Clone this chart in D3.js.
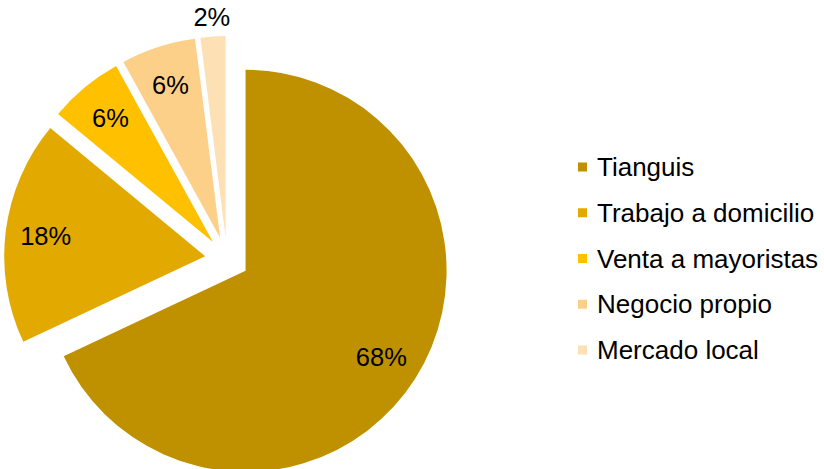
<!DOCTYPE html>
<html>
<head>
<meta charset="utf-8">
<script src="https://cdn.jsdelivr.net/npm/d3@7"></script>
<style>
  body { margin: 0; background: #fff; }
  svg text { font-family: "Liberation Sans", Arial, sans-serif; }
</style>
</head>
<body>
<div id="chart"></div>
<script>
// chart data
const categories = ["Tianguis", "Trabajo a domicilio", "Venta a mayoristas", "Negocio propio", "Mercado local"];
const values = [68, 18, 6, 6, 2];
const colors = ["#BF9000", "#E2AA00", "#FFC000", "#FDD08A", "#FEE0B5"];

const width = 824;
const height = 469;
const cx = 227, cy = 259;   // pie centre
const radius = 201;
const explode = 22;          // every slice pulled out from the centre

const svg = d3.select("#chart")
  .append("svg")
  .attr("width", width)
  .attr("height", height);

const data = categories.map((c, i) => ({name: c, value: values[i], color: colors[i]}));

const pie = d3.pie().sort(null).value(d => d.value);
const arc = d3.arc().innerRadius(0).outerRadius(radius);
const arcs = pie(data);

const g = svg.append("g").attr("transform", `translate(${cx},${cy})`);

// offset of a slice along its mid angle
const shift = (d, dist) => {
  const a = (d.startAngle + d.endAngle) / 2;
  return [Math.sin(a) * dist, -Math.cos(a) * dist];
};

const slices = g.selectAll(".slice")
  .data(arcs)
  .enter()
  .append("g")
  .attr("class", "slice")
  .attr("transform", d => `translate(${shift(d, explode)})`);

slices.append("path")
  .attr("d", arc)
  .attr("fill", d => d.data.color);

// labels: inside for big slices, just outside for the tiny one
slices.append("text")
  .attr("transform", d => {
    const r = d.data.value < 3 ? radius + 19 : radius * 0.8;
    return `translate(${shift(d, r)})`;
  })
  .attr("text-anchor", "middle")
  .attr("dy", "0.35em")
  .attr("font-size", "25.5px")
  .attr("fill", "#000")
  .text(d => d.data.value + "%");

// legend
const legend = svg.append("g").attr("transform", "translate(578,167)");
const rowGap = 45.75;

const rows = legend.selectAll(".row")
  .data(data)
  .enter()
  .append("g")
  .attr("class", "row")
  .attr("transform", (d, i) => `translate(0,${i * rowGap})`);

rows.append("rect")
  .attr("x", 0)
  .attr("y", -4.5)
  .attr("width", 9)
  .attr("height", 9)
  .attr("fill", d => d.color);

rows.append("text")
  .attr("x", 19)
  .attr("dy", "0.35em")
  .attr("font-size", "26px")
  .attr("fill", "#000")
  .text(d => d.name);
</script>
</body>
</html>
